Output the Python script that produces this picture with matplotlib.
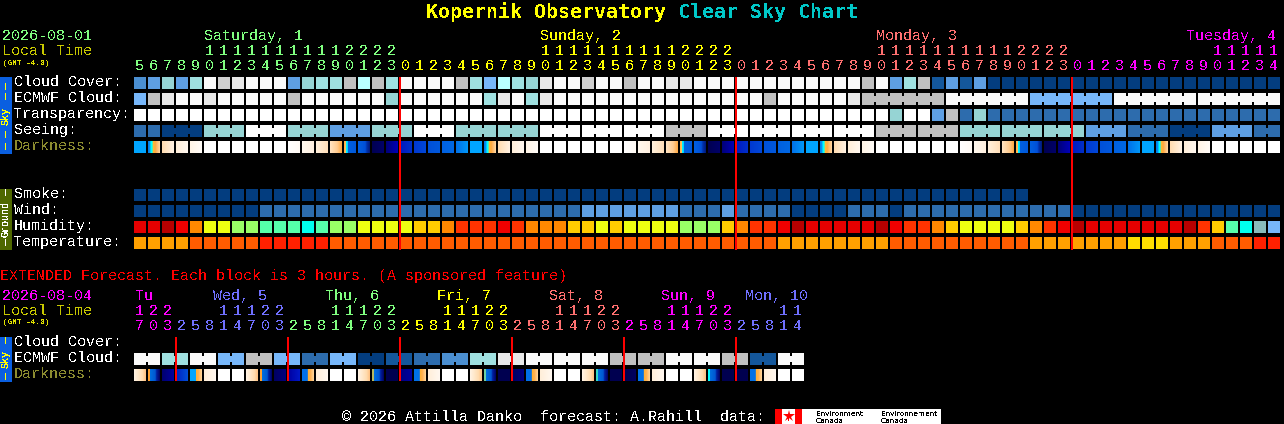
import numpy as np
import matplotlib
matplotlib.use("Agg")
import matplotlib.pyplot as plt
from matplotlib.colors import to_rgb

# ---------- data: one code per hourly column ----------
cloud_cover = ("DMTMC" "WxgWW" "WMTCC" "HLHCW" "WWWHC" "BLCTg" "WWxWW" "HWWgg" "WWWWW" "WWWWW"
               "WWHWM" "CHFMF" "MNNNN" "NNNNN" "NNNNN" "NNNNN" "NN")
ecmwf_cloud = ("BHgWW" "gWWWW" "WHWWW" "WWWTW" "WWWWW" "CgWCg" "WWWWW" "WWWWW" "WWWWW" "HWWWW"
               "WgHHH" "HHHWW" "WWWWB" "BBBBB" "WWWWW" "WWWWW" "WW")
transparency = ("wwwww" "wwwww" "wwwww" "wwwww" "wwwww" "wwwww" "wwwww" "wwwww" "wwwww" "wwwww"
                "wwwwT" "wwMHE" "TEEEE" "EEEEE" "EEEEE" "EEEEE" "EE")
seeing = ("EENNN" "TTTww" "wTTTM" "MMTTT" "wwwTT" "TTTTw" "wwwww" "wwwHH" "Hwwww" "wwwww"
          "wwwHH" "HHHHT" "TTTTT" "TTTMM" "MEEEN" "NNMMM" "EE")
smoke = ("NNNNN" "NNNNN" "NNNNN" "NNNNN" "NNNNN" "NNNNN" "NNNNN" "NNNNN" "NNNNN" "NNNNN"
         "NNNNN" "NNNNN" "NNNN")
wind = ("NNNNN" "NNNNE" "EEEEE" "EEEEE" "EEEEE" "EEEEE" "EEMMM" "MMMME" "EEMEE" "EENNN"
        "NEEEN" "EEEEE" "EEEEE" "EENNN" "NNNNN" "NNNNN" "NN")
humidity = ("RRDrO" "YYGGM" "MMCMG" "GYYYY" "AAOSS" "SrSOO" "OAAYA" "YYYYG" "GGAOS" "SrDRR"
            "RRRDr" "SSOAY" "YYYAO" "SrDRR" "RRRRR" "DSAMC" "QB")
temperature = ("aaaao" "oooor" "rrrro" "ooooo" "ooooo" "ooooo" "ooooo" "ooooo" "ooooo" "oaaaa"
               "aaaao" "ooooo" "ooooa" "aaaaa" "ayyya" "aaooo" "rr")
darkness = ("abcde" "wwwww" "wfghi" "jklmn" "opqra" "bcdew" "wwwww" "fghij" "klmno" "pqrab"
            "cdewwwwwwf" "ghijk" "lmnop" "qrabc" "dewww" "ww")

# extended forecast: one code per 3-hour pair for cloud, per column for darkness
ext_ecmwf = "WCWBHBEBNFEDCgWWWHHWWHFW"
ext_darkness = ["t", "u", "1", "2", "s", "d", "w", "w",
                "t", "u", "3", "4", "S", "d", "w", "w",
                "t", "O", "5", "6", "S", "d", "w", "w",
                "t", "Y", "5", "3", "S", "d", "w", "w",
                "t", "Z", "5", "8", "S", "d", "w", "w",
                "t", "X", "5", "5", "S", "d", "w", "w"]

# tick labels
hour_units = ("5678901234567890123"
              "012345678901234567890123"
              "012345678901234567890123"
              "012345678901234")
hour_tens = ("     11111111112222"
             "          11111111112222"
             "          11111111112222"
             "          11111")
ext_units = "703" "25814703" "25814703" "25814703" "25814703" "25814703" "25814"
ext_tens = "122" "   11122" "   11122" "   11122" "   11122" "   11122" "   11"

day_names = ["Saturday, 1", "Sunday, 2", "Monday, 3", "Tuesday, 4"]
ext_day_names = ["Tu", "Wed, 5", "Thu, 6", "Fri, 7", "Sat, 8", "Sun, 9", "Mon, 10"]
sky_rows = ["Cloud Cover:", "ECMWF Cloud:", "Transparency:", "Seeing:", "Darkness:"]
ground_rows = ["Smoke:", "Wind:", "Humidity:", "Temperature:"]

# ---------- palettes / styles ----------
sky_palette = {"W": "#fafafa", "w": "#ffffff", "g": "#e8e8e8", "x": "#d0d0d0", "H": "#c0c0c0",
               "T": "#96d4d4", "C": "#9fe0e0", "L": "#b9ffff", "B": "#77b7fa", "M": "#5e9fe3",
               "D": "#4b8fd1", "E": "#2d6cad", "F": "#14579b", "N": "#033d7f"}
hum_palette = {"R": "#e60000", "D": "#b80000", "r": "#f00000", "S": "#ff3300", "O": "#ff8800",
               "A": "#ffcc00", "Y": "#eeff11", "G": "#99ff66", "M": "#55ffaa", "C": "#00ffee",
               "Q": "#88bbbb", "B": "#77b7fa"}
tmp_palette = {"a": "#ffa000", "o": "#ff5c00", "r": "#ff2000", "y": "#ffdd00"}


def bar_cut(c):
    return [(0, c), (0.16, c), (0.17, "#0070e0"), (0.6, "#0058d0"), (0.72, "#0020a0"), (1, "#000060")]


grad = {
    "w": [(0, "#ffffff"), (1, "#ffffff")],
    "a": [(0, "#00a5ff"), (1, "#00a5ff")],
    "b": [(0, "#0078e8"), (0.17, "#0098f8"), (0.25, "#00ffff"), (0.36, "#00ffff"), (0.4, "#ffc030"),
          (0.6, "#ffa840"), (1, "#ffd8a8")],
    "c": [(0, "#ffdcb0"), (1, "#fff2e4")],
    "d": [(0, "#ffeed8"), (1, "#fff8f0")],
    "e": [(0, "#fff4e6"), (1, "#fffcf8")],
    "f": [(0, "#ffffff"), (1, "#fffaf4")],
    "g": [(0, "#fff8ee"), (1, "#fff0e0")],
    "h": [(0, "#fff0dc"), (1, "#ffdeb8")],
    "i": [(0, "#ffe4c4"), (0.6, "#ffcc90"), (1, "#ffa840")],
    "j": [(0, "#ffb040"), (0.14, "#ffc060"), (0.17, "#00ffff"), (0.3, "#00d0ff"), (0.34, "#0060e0"), (1, "#0058d8")],
    "k": [(0, "#0060e0"), (0.6, "#0050d8"), (0.75, "#0030a8"), (1, "#001878")],
    "l": [(0, "#000050"), (1, "#000068")],
    "m": [(0, "#000078"), (1, "#0000b8")],
    "n": [(0, "#0018c0"), (1, "#0030c8")],
    "o": [(0, "#0038d0"), (1, "#0048d8")],
    "p": [(0, "#0050d8"), (1, "#0058dc")],
    "q": [(0, "#0060e0"), (1, "#0068e4")],
    "r": [(0, "#0070e8"), (1, "#0098f8")],
    "t": [(0, "#fff4e6"), (0.7, "#ffdcb0"), (1, "#ffc080")],
    "u": bar_cut("#ffa030"),
    "O": bar_cut("#b8b860"),
    "Y": bar_cut("#70d0a0"),
    "Z": bar_cut("#30d8c8"),
    "X": bar_cut("#00ffff"),
    "s": [(0, "#00a5ff"), (0.5, "#00a5ff"), (0.52, "#ffb030"), (0.7, "#ffb050"), (1, "#ffd8a0")],
    "S": [(0, "#0070e8"), (0.45, "#0070e8"), (0.5, "#ffb030"), (0.7, "#ffb050"), (1, "#ffd8a0")],
    "1": [(0, "#000070"), (1, "#0000a0")],
    "2": [(0, "#0020c0"), (1, "#0050d8")],
    "3": [(0, "#000060"), (1, "#000080")],
    "4": [(0, "#0000a0"), (1, "#0018c8")],
    "5": [(0, "#000050"), (1, "#000050")],
    "6": [(0, "#000080"), (1, "#0000a0")],
    "8": [(0, "#000050"), (1, "#000060")],
}

GREEN, YELLOW, SALMON, MAGENTA, PERI = "#80ff80", "#ffff00", "#ff7070", "#ff00ff", "#7070ff"
DIM_YELLOW, OLIVE = "#c8c800", "#8c8c30"
RED = "#ff0000"

plt.rcParams["text.antialiased"] = False
plt.rcParams["font.family"] = ["Liberation Mono"]
PT = 72 / 100  # points per pixel at 100 dpi

fig = plt.figure(figsize=(12.84, 4.24), dpi=100, facecolor="black")
ax = fig.add_axes([0, 0, 1, 1], facecolor="black")
ax.set_xlim(0, 1284)
ax.set_ylim(424, 0)
ax.axis("off")
ax.autoscale(False)

X0, STEP, CELL = 134, 14, 12


def col_x(i):
    return X0 + STEP * i


def rects(xs, ys, ws, hs, colors, z=2):
    ax.bar(xs, hs, width=ws, bottom=ys, align="edge", color=colors, linewidth=0,
           antialiased=False, zorder=z)


def row(codes, y, palette):
    xs = [col_x(i) for i in range(len(codes))]
    rects(xs, y, CELL, CELL, [palette[c] for c in codes])


def bridges(codes, y, palette, start, size):
    """Small connectors between columns of one forecast block."""
    xs, cs = [], []
    for i in range(start, len(codes) - 1):
        if (i - start + 1) % size != 0:
            xs.append(col_x(i) + CELL)
            cs.append(palette[codes[i]])
    rects(xs, y + 3, STEP - CELL, 6, cs)


def gradient_row(codes, y):
    pos = np.linspace(0, 1, CELL * 2 + 1)[1::2]
    for i, c in enumerate(codes):
        stops = grad[c]
        p = [s[0] for s in stops]
        rgb = np.array([to_rgb(s[1]) for s in stops])
        img = np.stack([np.interp(pos, p, rgb[:, k]) for k in range(3)], axis=1)[None, :, :]
        ax.imshow(img, extent=(col_x(i), col_x(i) + CELL, y + CELL, y), aspect="auto",
                  interpolation="nearest", zorder=2)


def txt(x, y, s, color="white", px=15, **kw):
    ax.text(x, y, s, color=color, fontsize=px * PT, ha=kw.pop("ha", "left"), va=kw.pop("va", "baseline"),
            zorder=5, **kw)


# ---------- title ----------
txt(426, 18, "Kopernik Observatory", YELLOW, px=20, fontweight="bold", family="DejaVu Sans Mono")
txt(678, 18, "Clear Sky Chart", "#00c8c8", px=20, fontweight="bold", family="DejaVu Sans Mono")

# ---------- hourly header ----------
txt(2, 40, "2026-08-01", GREEN)
txt(2, 55, "Local Time", DIM_YELLOW)
txt(3, 65, "(GMT -4.0)", "#e0e000", px=7.8)

for name, x, c in zip(day_names, [col_x(5), col_x(29), col_x(53), 1186],
                      [GREEN, YELLOW, SALMON, MAGENTA]):
    txt(x, 40, name, c)


def hour_color(i):
    return GREEN if i < 19 else YELLOW if i < 43 else SALMON if i < 67 else MAGENTA


for i, (u, t) in enumerate(zip(hour_units, hour_tens)):
    cx = col_x(i) + CELL / 2 - 0.5
    txt(cx, 70, u, hour_color(i), ha="center")
    if t != " ":
        txt(cx, 55, t, hour_color(i), ha="center")

# ---------- hourly rows ----------
for label, b in zip(sky_rows, [86, 102, 118, 134, 150]):
    txt(14, b, label, OLIVE if label.startswith("Dark") else "white")
for label, b in zip(ground_rows, [198, 214, 230, 246]):
    txt(14, b, label)

row(cloud_cover, 77, sky_palette)
row(ecmwf_cloud, 93, sky_palette)
bridges(ecmwf_cloud, 93, sky_palette, 52, 6)
row(transparency, 109, sky_palette)
row(seeing, 125, sky_palette)
bridges(seeing, 125, sky_palette, 2, 3)
bridges(seeing[:2], 125, sky_palette, 0, 1)
gradient_row(darkness, 141)
row(smoke, 189, sky_palette)
row(wind, 205, sky_palette)
row(humidity, 221, hum_palette)
row(temperature, 237, tmp_palette)

# side bars
rects([0], 77, 12, 77, ["#0a5fe0"])
rects([0], 189, 12, 61, ["#4f6800"])
rects([0], 337, 12, 45, ["#0a5fe0"])
for y in [86, 96, 135, 146]:
    txt(5.5, y, "|", YELLOW, px=8, ha="center", va="center")
txt(5.5, 116, "Sky", YELLOW, px=10, rotation=90, ha="center", va="center", fontweight="bold")
for y in [193, 243]:
    txt(5.5, y, "|", "white", px=8, ha="center", va="center")
txt(5.5, 219, "Ground", "white", px=10, rotation=90, ha="center", va="center", fontweight="bold")
for y in [341, 377]:
    txt(5.5, y, "|", YELLOW, px=8, ha="center", va="center")
txt(5.5, 359, "Sky", YELLOW, px=10, rotation=90, ha="center", va="center", fontweight="bold")

# midnight markers
rects([col_x(i) - 1 for i in (19, 43, 67)], 77, 2, 173, [RED] * 3, z=4)

# ---------- extended forecast ----------
txt(0, 280, "EXTENDED Forecast. Each block is 3 hours. (A sponsored feature)", RED)
txt(2, 300, "2026-08-04", MAGENTA)
txt(2, 315, "Local Time", DIM_YELLOW)
txt(3, 324, "(GMT -4.0)", "#e0e000", px=7.8)

ext_day_colors = [MAGENTA, PERI, GREEN, YELLOW, SALMON, MAGENTA, PERI]
for name, x, c in zip(ext_day_names, [135, 213, 325, 437, 549, 661, 745], ext_day_colors):
    txt(x, 300, name, c)


def ext_color(i):
    k = 0 if i < 3 else 1 + (i - 3) // 8
    return ext_day_colors[k]


for i, (u, t) in enumerate(zip(ext_units, ext_tens)):
    cx = col_x(i) + CELL / 2 - 0.5
    txt(cx, 330, u, ext_color(i), ha="center")
    if t != " ":
        txt(cx, 315, t, ext_color(i), ha="center")

for label, b, c in zip(["Cloud Cover:", "ECMWF Cloud:", "Darkness:"], [346, 362, 378], ["white", "white", OLIVE]):
    txt(14, b, label, c)

ext_cols = "".join(c + c for c in ext_ecmwf)
row(ext_cols, 353, sky_palette)
bridges(ext_cols, 353, sky_palette, 0, 2)
gradient_row(ext_darkness, 369)
rects([col_x(i) - 1 for i in (3, 11, 19, 27, 35, 43)], 337, 2, 44, [RED] * 6, z=4)

# ---------- footer ----------
txt(342, 421, "\u00a9 2026 Attilla Danko  forecast: A.Rahill  data:", "white")
rects([782], 409, 159, 15, ["white"])
rects([775, 795], 409, 7, 15, [RED, RED])
ax.plot([788.5], [415.5], marker="*", ms=9, color=RED, mew=0, zorder=4, antialiased=False)
rects([788], 418, 1, 3, [RED], z=4)
for x, w1 in [(816, "Environment"), (881, "Environnement")]:
    txt(x, 416, w1, "black", px=7.4, family="DejaVu Sans")
    txt(x, 423, "Canada", "black", px=7.4, family="DejaVu Sans")

fig.savefig("out.png", dpi=100, facecolor="black")
